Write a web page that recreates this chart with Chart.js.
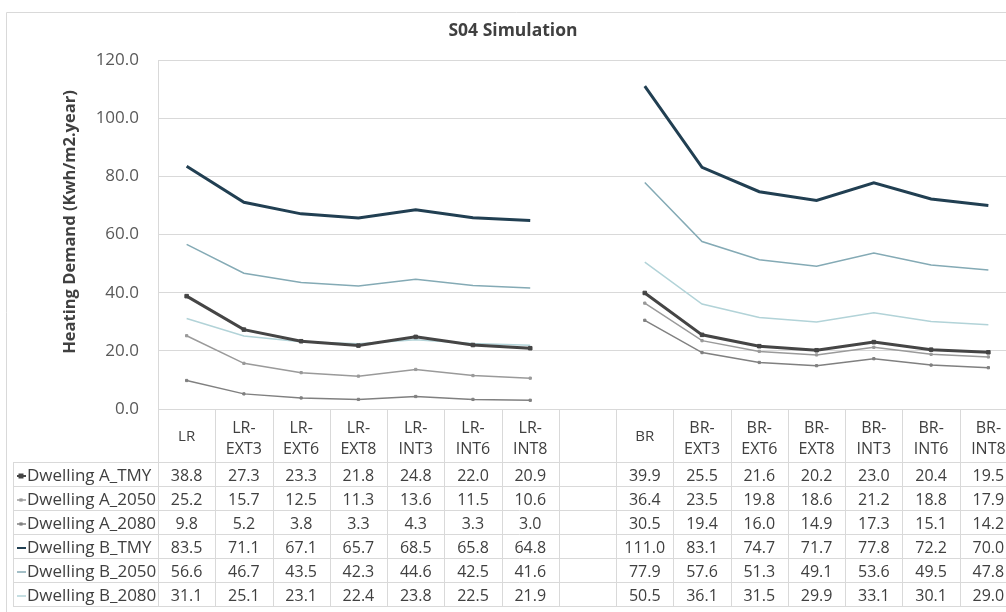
<!DOCTYPE html>
<html>
<head>
<meta charset="utf-8">
<script src="https://cdn.jsdelivr.net/npm/chart.js@4"></script>
<style>
    html, body { margin: 0; padding: 0; background: #ffffff; overflow: hidden; }
    #wrap { width: 1026px; height: 612px; position: relative; }
</style>
</head>
<body>
<div id="wrap"><canvas id="chart" width="1026" height="612"></canvas></div>
<script>
// Categories (the empty one is the gap between the LR and BR groups)
const categories = ['LR', 'LR-EXT3', 'LR-EXT6', 'LR-EXT8', 'LR-INT3', 'LR-INT6', 'LR-INT8', '',
    'BR', 'BR-EXT3', 'BR-EXT6', 'BR-EXT8', 'BR-INT3', 'BR-INT6', 'BR-INT8'];

const dwellingA_TMY  = [38.8, 27.3, 23.3, 21.8, 24.8, 22.0, 20.9, null, 39.9, 25.5, 21.6, 20.2, 23.0, 20.4, 19.5];
const dwellingA_2050 = [25.2, 15.7, 12.5, 11.3, 13.6, 11.5, 10.6, null, 36.4, 23.5, 19.8, 18.6, 21.2, 18.8, 17.9];
const dwellingA_2080 = [9.8, 5.2, 3.8, 3.3, 4.3, 3.3, 3.0, null, 30.5, 19.4, 16.0, 14.9, 17.3, 15.1, 14.2];
const dwellingB_TMY  = [83.5, 71.1, 67.1, 65.7, 68.5, 65.8, 64.8, null, 111.0, 83.1, 74.7, 71.7, 77.8, 72.2, 70.0];
const dwellingB_2050 = [56.6, 46.7, 43.5, 42.3, 44.6, 42.5, 41.6, null, 77.9, 57.6, 51.3, 49.1, 53.6, 49.5, 47.8];
const dwellingB_2080 = [31.1, 25.1, 23.1, 22.4, 23.8, 22.5, 21.9, null, 50.5, 36.1, 31.5, 29.9, 33.1, 30.1, 29.0];

const yTicks = [0, 20, 40, 60, 80, 100, 120];

const FONT = '"Open Sans", "Liberation Sans", sans-serif';
const TEXT = '#404040';
const GRID = '#d9d9d9';

function series(label, data, color, width, radius, style) {
    return {
        label: label,
        data: data,
        borderColor: color,
        backgroundColor: color,
        borderWidth: width,
        pointRadius: radius,
        pointStyle: style,
        pointBorderWidth: 1,
        tension: 0,
        spanGaps: false
    };
}

const datasets = [
    series('Dwelling A_TMY', dwellingA_TMY, '#454545', 3, 2.5, 'rect'),
    series('Dwelling A_2050', dwellingA_2050, '#9a9a9a', 1.5, 1.6, 'rect'),
    series('Dwelling A_2080', dwellingA_2080, '#808080', 1.5, 1.6, 'rect'),
    series('Dwelling B_TMY', dwellingB_TMY, '#213f52', 3, 0, 'circle'),
    series('Dwelling B_2050', dwellingB_2050, '#84aab5', 1.5, 0, 'circle'),
    series('Dwelling B_2080', dwellingB_2080, '#b2d3d8', 1.5, 0, 'circle')
];

// Frame, y title and the Excel-style data table under the plot
const tablePlugin = {
    id: 'dataTable',
    beforeDraw(chart) {
        const ctx = chart.ctx;
        ctx.save();
        ctx.strokeStyle = GRID;
        ctx.lineWidth = 1;
        ctx.beginPath();
        ctx.moveTo(6.5, 612);
        ctx.lineTo(6.5, 12.5);
        ctx.lineTo(1026, 12.5);
        ctx.stroke();
        ctx.restore();
    },
    afterDraw(chart) {
        const ctx = chart.ctx;
        const x = chart.scales.x;
        const area = chart.chartArea;
        const colW = x.getPixelForValue(1) - x.getPixelForValue(0);
        const top = area.bottom;
        const headBottom = 462;
        const rowH = 24;
        const rows = chart.data.datasets.length;
        const bottom = headBottom + rows * rowH;

        ctx.save();
        // y axis title
        ctx.fillStyle = TEXT;
        ctx.font = 'bold 16.5px ' + FONT;
        ctx.textAlign = 'center';
        ctx.textBaseline = 'middle';
        ctx.translate(70, 222);
        ctx.rotate(-Math.PI / 2);
        ctx.fillText('Heating Demand (Kwh/m2.year)', 0, 0);
        ctx.restore();

        ctx.save();
        ctx.strokeStyle = GRID;
        ctx.lineWidth = 1;
        ctx.beginPath();
        for (let i = 0; i <= categories.length; i++) {
            const px = Math.round(area.left + i * colW) + 0.5;
            ctx.moveTo(px, top);
            ctx.lineTo(px, bottom);
        }
        for (let r = 0; r <= rows; r++) {
            const py = headBottom + r * rowH + 0.5;
            ctx.moveTo(13, py);
            ctx.lineTo(chart.width, py);
        }
        ctx.moveTo(13.5, headBottom);
        ctx.lineTo(13.5, bottom);
        ctx.stroke();

        ctx.fillStyle = TEXT;
        ctx.font = '16px ' + FONT;
        ctx.textAlign = 'center';
        ctx.textBaseline = 'middle';

        // header labels
        categories.forEach((c, i) => {
            const cx = x.getPixelForValue(i);
            if (c.indexOf('-') > 0) {
                const parts = c.split('-');
                ctx.fillText(parts[0] + '-', cx, 428);
                ctx.fillText(parts[1], cx, 449);
            } else if (c) {
                ctx.font = '15px ' + FONT;
                ctx.fillText(c, cx, 437);
                ctx.font = '16px ' + FONT;
            }
        });

        // rows
        chart.data.datasets.forEach((ds, r) => {
            const cy = headBottom + r * rowH + rowH / 2 + 2;
            // legend key
            ctx.strokeStyle = ds.borderColor;
            ctx.lineWidth = Math.min(ds.borderWidth, 2);
            ctx.beginPath();
            ctx.moveTo(17, cy);
            ctx.lineTo(26, cy);
            ctx.stroke();
            if (ds.pointRadius > 0) {
                ctx.fillStyle = ds.borderColor;
                const s = ds.pointRadius;
                ctx.fillRect(21 - s, cy - s, s * 2, s * 2);
            }
            ctx.fillStyle = TEXT;
            ctx.textAlign = 'left';
            ctx.font = '17px ' + FONT;
            ctx.fillText(ds.label, 27, cy);
            ctx.font = '16px ' + FONT;
            ctx.textAlign = 'center';
            ds.data.forEach((v, i) => {
                if (v !== null) ctx.fillText(v.toFixed(1), x.getPixelForValue(i), cy);
            });
        });
        ctx.restore();
    }
};

const ctx = document.getElementById('chart').getContext('2d');
const chart = new Chart(ctx, {
    type: 'line',
    data: {
        labels: categories,
        datasets: datasets
    },
    options: {
        responsive: false,
        animation: false,
        devicePixelRatio: 1,
        layout: {
            padding: { left: 9, right: 9, top: 0, bottom: 203 }
        },
        plugins: {
            legend: { display: false },
            tooltip: { enabled: false },
            title: {
                display: true,
                text: 'S04 Simulation',
                color: TEXT,
                font: { family: FONT, size: 17.5, weight: 'bold' },
                padding: { top: 21, bottom: 18 }
            }
        },
        scales: {
            x: {
                type: 'category',
                offset: true,
                display: false,
                grid: { display: false }
            },
            y: {
                min: 0,
                max: 120,
                afterFit: function(scale) {
                    scale.width = 149;
                },
                afterBuildTicks: function(scale) {
                    scale.ticks = yTicks.map(v => ({ value: v }));
                },
                border: { display: true, color: GRID },
                grid: { color: GRID, drawTicks: false, lineWidth: 1 },
                ticks: {
                    color: '#595959',
                    padding: 19,
                    font: { family: FONT, size: 17 },
                    callback: function(v) { return Number(v).toFixed(1); }
                }
            }
        }
    },
    plugins: [tablePlugin]
});
</script>
</body>
</html>
